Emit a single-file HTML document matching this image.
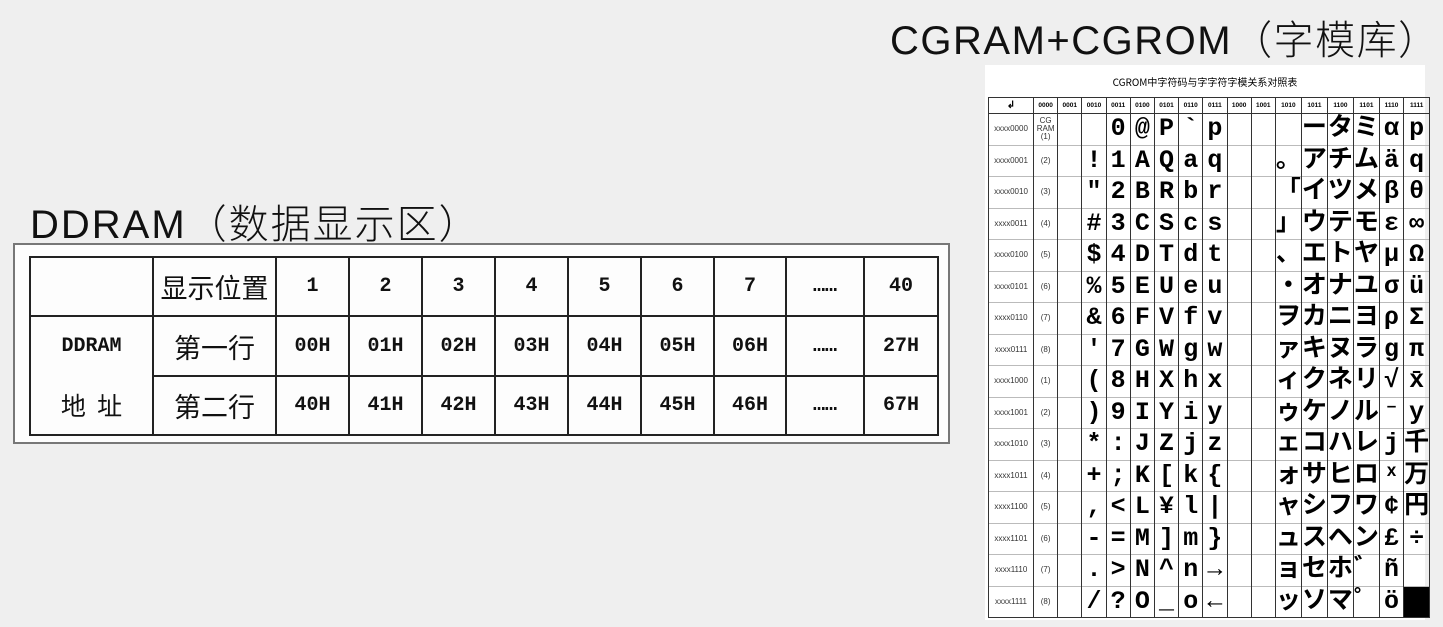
<!DOCTYPE html>
<html><head><meta charset="utf-8">
<style>
html,body{margin:0;padding:0;}
body{width:1443px;height:627px;background:#efefef;position:relative;overflow:hidden;font-family:"Liberation Sans","Noto Sans CJK SC",sans-serif;}
.t1{position:absolute;left:890px;top:8px;font-size:40px;font-weight:300;color:#111;white-space:nowrap;letter-spacing:1.5px;font-family:"Liberation Sans","Noto Sans CJK SC",sans-serif;}
.t2{position:absolute;left:30px;top:192px;font-size:40px;font-weight:300;color:#111;white-space:nowrap;letter-spacing:2px;}
.box{position:absolute;left:13px;top:243px;width:937px;height:201px;border:2px solid #777;background:#fdfdfd;box-sizing:border-box;}
table.d{position:absolute;left:29px;top:256px;border-collapse:collapse;table-layout:fixed;}
table.d td{border:2px solid #222;text-align:center;padding:0;font-size:20px;font-weight:bold;font-family:"Liberation Mono",monospace;color:#111;}
table.d td.c{font-family:"Noto Sans CJK SC",sans-serif;font-weight:normal;font-size:27px;}
.r{position:absolute;left:985px;top:65px;width:440px;height:555px;background:#fff;}
.rt{position:absolute;left:985px;top:74px;width:440px;text-align:center;font-size:10px;font-family:"Noto Sans CJK SC",sans-serif;}
table.g{position:absolute;left:988px;top:97px;border-collapse:collapse;table-layout:fixed;}
table.g td{border-left:1px solid #333;border-right:1px solid #333;border-top:1px solid #bbb;padding:0;text-align:center;overflow:hidden;white-space:nowrap;height:30.5px;font-family:"Liberation Mono","Noto Sans CJK JP",monospace;font-weight:bold;font-size:25px;line-height:30px;color:#000;}
table.g tr.h td{height:15px;font-size:6.5px;font-family:"Liberation Sans",sans-serif;line-height:15px;border-top:1px solid #333;border-bottom:1px solid #333;}
table.g td.l{font-size:8px;font-family:"Liberation Sans",sans-serif;font-weight:normal;color:#333;}
table.g td.n{font-size:8px;font-family:"Liberation Sans",sans-serif;font-weight:normal;color:#333;}
table.g tr:last-child td{border-bottom:1px solid #333;}
</style></head><body>
<div class="t1">CGRAM+CGROM（字模库）</div>
<div class="t2">DDRAM（数据显示区）</div>
<div class="box"></div>
<table class="d">
<colgroup><col style="width:123px"><col style="width:123px"><col style="width:73px"><col style="width:73px"><col style="width:73px"><col style="width:73px"><col style="width:73px"><col style="width:73px"><col style="width:72px"><col style="width:78px"><col style="width:74px"></colgroup>
<tr style="height:59px"><td></td><td class="c">显示位置</td><td>1</td><td>2</td><td>3</td><td>4</td><td>5</td><td>6</td><td>7</td><td>……</td><td>40</td></tr>
<tr style="height:60px"><td style="border-bottom:none">DDRAM</td><td class="c">第一行</td><td>00H</td><td>01H</td><td>02H</td><td>03H</td><td>04H</td><td>05H</td><td>06H</td><td>……</td><td>27H</td></tr>
<tr style="height:59px"><td class="c" style="border-top:none;font-size:25px">地&nbsp;&nbsp;址</td><td class="c">第二行</td><td>40H</td><td>41H</td><td>42H</td><td>43H</td><td>44H</td><td>45H</td><td>46H</td><td>……</td><td>67H</td></tr>
</table>
<div class="r"></div>
<div class="rt">CGROM中字符码与字字符字模关系对照表</div>
<table class="g">
<colgroup><col style="width:45px"><col style="width:24.2px"><col style="width:24.2px"><col style="width:24.2px"><col style="width:24.2px"><col style="width:24.2px"><col style="width:24.2px"><col style="width:24.2px"><col style="width:24.2px"><col style="width:24.2px"><col style="width:24.2px"><col style="width:24.2px"><col style="width:24.2px"><col style="width:24.2px"><col style="width:24.2px"><col style="width:24.2px"><col style="width:24.2px"></colgroup>
<tr class="h"><td style="font-size:10px">↲</td><td>0000</td><td>0001</td><td>0010</td><td>0011</td><td>0100</td><td>0101</td><td>0110</td><td>0111</td><td>1000</td><td>1001</td><td>1010</td><td>1011</td><td>1100</td><td>1101</td><td>1110</td><td>1111</td></tr>
<tr><td class="l">xxxx0000</td><td class="n" style="line-height:8px">CG<br>RAM<br>(1)</td><td></td><td></td><td>0</td><td>@</td><td>P</td><td>`</td><td>p</td><td></td><td></td><td></td><td>ー</td><td>タ</td><td>ミ</td><td>α</td><td>p</td></tr>
<tr><td class="l">xxxx0001</td><td class="n">(2)</td><td></td><td>!</td><td>1</td><td>A</td><td>Q</td><td>a</td><td>q</td><td></td><td></td><td>。</td><td>ア</td><td>チ</td><td>ム</td><td>ä</td><td>q</td></tr>
<tr><td class="l">xxxx0010</td><td class="n">(3)</td><td></td><td>"</td><td>2</td><td>B</td><td>R</td><td>b</td><td>r</td><td></td><td></td><td>「</td><td>イ</td><td>ツ</td><td>メ</td><td>β</td><td>θ</td></tr>
<tr><td class="l">xxxx0011</td><td class="n">(4)</td><td></td><td>#</td><td>3</td><td>C</td><td>S</td><td>c</td><td>s</td><td></td><td></td><td>」</td><td>ウ</td><td>テ</td><td>モ</td><td>ε</td><td>∞</td></tr>
<tr><td class="l">xxxx0100</td><td class="n">(5)</td><td></td><td>$</td><td>4</td><td>D</td><td>T</td><td>d</td><td>t</td><td></td><td></td><td>、</td><td>エ</td><td>ト</td><td>ヤ</td><td>μ</td><td>Ω</td></tr>
<tr><td class="l">xxxx0101</td><td class="n">(6)</td><td></td><td>%</td><td>5</td><td>E</td><td>U</td><td>e</td><td>u</td><td></td><td></td><td>・</td><td>オ</td><td>ナ</td><td>ユ</td><td>σ</td><td>ü</td></tr>
<tr><td class="l">xxxx0110</td><td class="n">(7)</td><td></td><td>&amp;</td><td>6</td><td>F</td><td>V</td><td>f</td><td>v</td><td></td><td></td><td>ヲ</td><td>カ</td><td>ニ</td><td>ヨ</td><td>ρ</td><td>Σ</td></tr>
<tr><td class="l">xxxx0111</td><td class="n">(8)</td><td></td><td>'</td><td>7</td><td>G</td><td>W</td><td>g</td><td>w</td><td></td><td></td><td>ァ</td><td>キ</td><td>ヌ</td><td>ラ</td><td>g</td><td>π</td></tr>
<tr><td class="l">xxxx1000</td><td class="n">(1)</td><td></td><td>(</td><td>8</td><td>H</td><td>X</td><td>h</td><td>x</td><td></td><td></td><td>ィ</td><td>ク</td><td>ネ</td><td>リ</td><td>√</td><td>x̄</td></tr>
<tr><td class="l">xxxx1001</td><td class="n">(2)</td><td></td><td>)</td><td>9</td><td>I</td><td>Y</td><td>i</td><td>y</td><td></td><td></td><td>ゥ</td><td>ケ</td><td>ノ</td><td>ル</td><td>⁻</td><td>y</td></tr>
<tr><td class="l">xxxx1010</td><td class="n">(3)</td><td></td><td>*</td><td>:</td><td>J</td><td>Z</td><td>j</td><td>z</td><td></td><td></td><td>ェ</td><td>コ</td><td>ハ</td><td>レ</td><td>j</td><td>千</td></tr>
<tr><td class="l">xxxx1011</td><td class="n">(4)</td><td></td><td>+</td><td>;</td><td>K</td><td>[</td><td>k</td><td>{</td><td></td><td></td><td>ォ</td><td>サ</td><td>ヒ</td><td>ロ</td><td>ˣ</td><td>万</td></tr>
<tr><td class="l">xxxx1100</td><td class="n">(5)</td><td></td><td>,</td><td>&lt;</td><td>L</td><td>¥</td><td>l</td><td>|</td><td></td><td></td><td>ャ</td><td>シ</td><td>フ</td><td>ワ</td><td>¢</td><td>円</td></tr>
<tr><td class="l">xxxx1101</td><td class="n">(6)</td><td></td><td>-</td><td>=</td><td>M</td><td>]</td><td>m</td><td>}</td><td></td><td></td><td>ュ</td><td>ス</td><td>ヘ</td><td>ン</td><td>£</td><td>÷</td></tr>
<tr><td class="l">xxxx1110</td><td class="n">(7)</td><td></td><td>.</td><td>&gt;</td><td>N</td><td>^</td><td>n</td><td>→</td><td></td><td></td><td>ョ</td><td>セ</td><td>ホ</td><td>゛</td><td>ñ</td><td></td></tr>
<tr><td class="l">xxxx1111</td><td class="n">(8)</td><td></td><td>/</td><td>?</td><td>O</td><td>_</td><td>o</td><td>←</td><td></td><td></td><td>ッ</td><td>ソ</td><td>マ</td><td>゜</td><td>ö</td><td style="background:#000"></td></tr>
</table>
</body></html>
